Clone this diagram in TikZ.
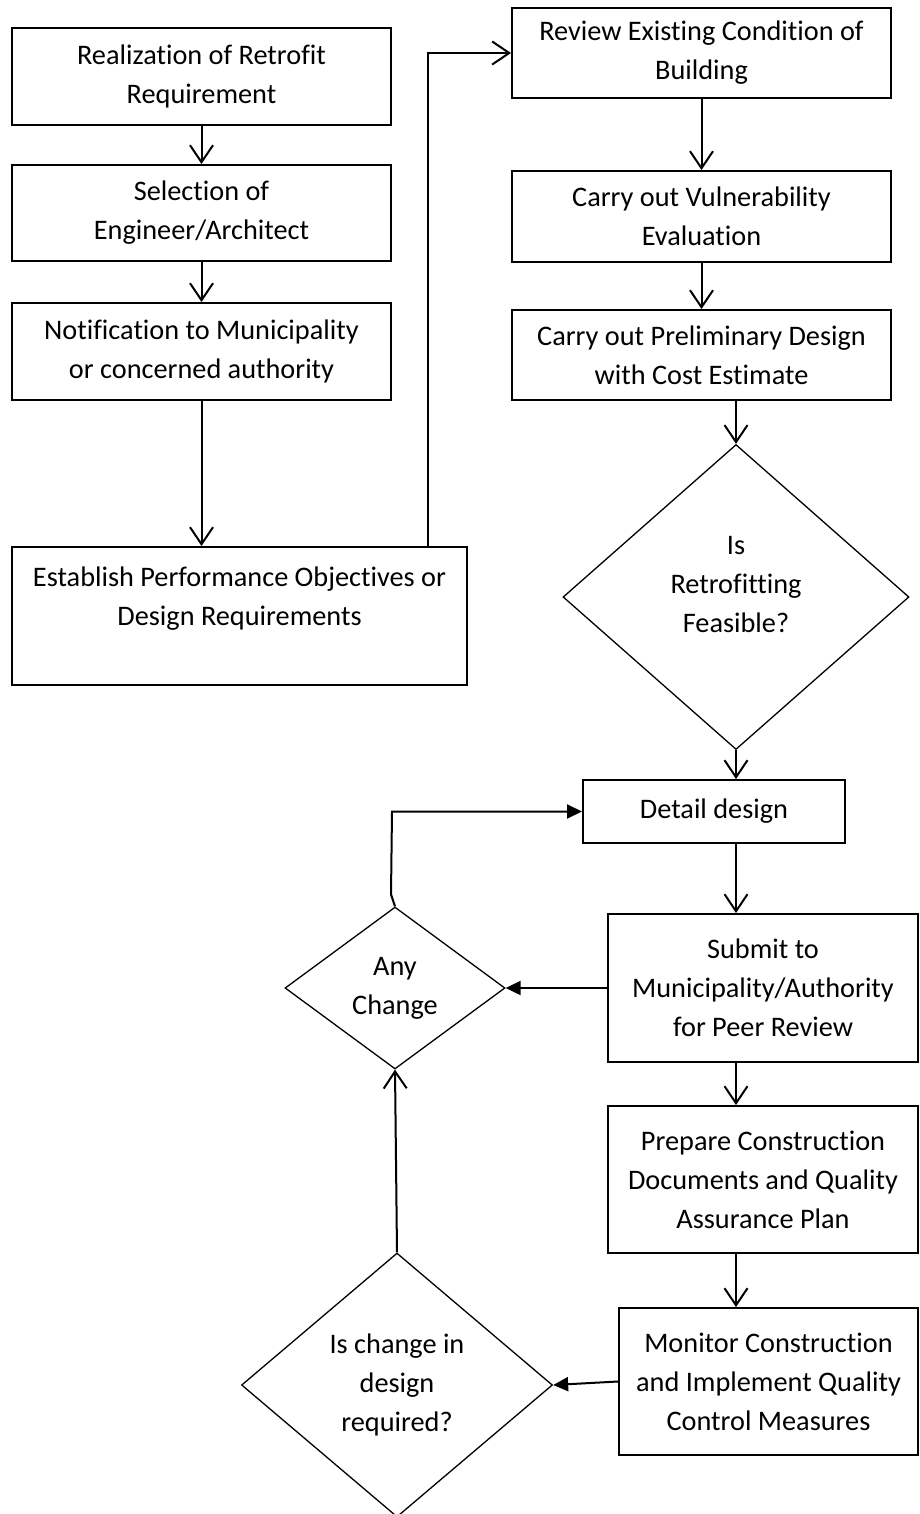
\documentclass[tikz,border=0pt]{standalone}
\usepackage{fontspec}
\setmainfont{Carlito}[Ligatures=NoCommon]
\usetikzlibrary{
    arrows.meta,
    shapes.geometric
}

\begin{document}
\begin{tikzpicture}[x=1pt, y=-1pt,
        procbox/.style={draw, line width=2pt, inner sep=0pt, align=center,
            font=\fontsize{28.3}{39}\selectfont},
        decbox/.style={draw, diamond, aspect=1, line width=1.3pt, inner sep=0pt,
            align=center, font=\fontsize{28.3}{39}\selectfont},
        flow/.style={line width=2pt, -{Straight Barb[length=17pt, width=23pt]}},
        back/.style={line width=2pt, -{Triangle[length=15pt, width=14pt]}}]
        \useasboundingbox (0,0) rectangle (920,1514);

        % Left column
        \node[procbox, minimum width=379pt, minimum height=97pt] (realize) at (201.5,76.5)
            {Realization of Retrofit\\Requirement};
        \node[procbox, minimum width=379pt, minimum height=96pt] (select) at (201.5,213)
            {Selection of\\Engineer/Architect};
        \node[procbox, minimum width=379pt, minimum height=97pt] (notify) at (201.5,351.5)
            {Notification to Municipality\\or concerned authority};
        \node[procbox, minimum width=455pt, minimum height=138pt] (objective) at (239.5,616)
            {Establish Performance Objectives or\\Design Requirements\\\mbox{}};

        % Right column
        \node[procbox, minimum width=379pt, minimum height=90pt] (review) at (701.5,53)
            {Review Existing Condition of\\Building};
        \node[procbox, minimum width=379pt, minimum height=91pt] (vulner) at (701.5,216.5)
            {Carry out Vulnerability\\Evaluation};
        \node[procbox, minimum width=379pt, minimum height=90pt] (prelim) at (701.5,355)
            {Carry out Preliminary Design\\with Cost Estimate};
        \node[decbox, minimum width=346pt, minimum height=305pt] (feasible) at (736,597)
            {Is\\Retrofitting\\Feasible?\\[-13pt]\mbox{}};
        \node[procbox, minimum width=262pt, minimum height=63pt] (detail) at (714,811.5)
            {Detail design};
        \node[procbox, minimum width=310pt, minimum height=148pt] (submit) at (763,988)
            {Submit to\\Municipality/Authority\\for Peer Review};
        \node[procbox, minimum width=310pt, minimum height=147pt] (prepare) at (763,1179.5)
            {Prepare Construction\\Documents and Quality\\Assurance Plan};
        \node[procbox, minimum width=299pt, minimum height=147pt] (monitor) at (768.5,1381.5)
            {Monitor Construction\\and Implement Quality\\Control Measures};

        % Feedback decisions
        \node[decbox, minimum width=220pt, minimum height=162pt] (anychange) at (395,988)
            {Any\\Change};
        \node[decbox, minimum width=311pt, minimum height=264pt] (redesign) at (397,1385)
            {Is change in\\design\\required?};

        \coordinate (turn) at (428,53);
        \coordinate (loop) at (392,811.5);

        % Main flow
        \draw[flow] (realize) -- (select);
        \draw[flow] (select) -- (notify);
        \draw[flow] (notify.south) -- (notify.south |- objective.north);
        \draw[flow] (turn |- objective.north) -- (turn) -- (review.west);
        \draw[flow] (review) -- (vulner);
        \draw[flow] (vulner) -- (prelim);
        \draw[flow] (feasible.north |- prelim.south) -- (feasible.north);
        \draw[flow] (feasible.south) -- (feasible.south |- detail.north);
        \draw[flow] (feasible.south |- detail.south) -- (feasible.south |- submit.north);
        \draw[flow] (feasible.south |- submit.south) -- (feasible.south |- prepare.north);
        \draw[flow] (feasible.south |- prepare.south) -- (feasible.south |- monitor.north);

        % Loops back
        \draw[back] (submit.west) -- (anychange.east);
        \draw[back] (monitor.west) -- (redesign.east);
        \draw[flow] (redesign.north) -- (anychange.south);
        \draw[back] (anychange.north) -- ++(-4,-12) -- (loop) -- (detail.west);
    \end{tikzpicture}
\end{document}
